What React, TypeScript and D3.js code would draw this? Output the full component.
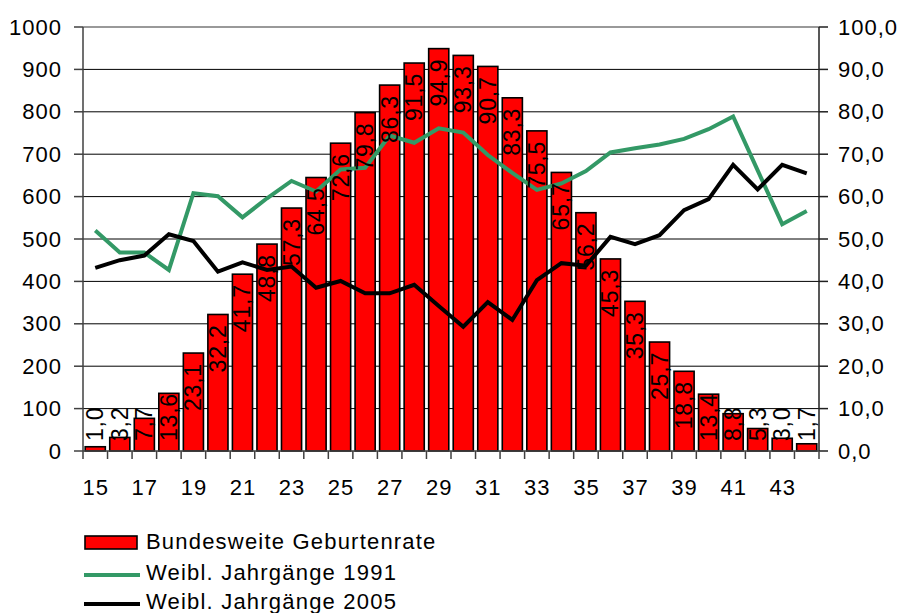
import React from "react";
import * as d3 from "d3";

const ages = [15,16,17,18,19,20,21,22,23,24,25,26,27,28,29,30,31,32,33,34,35,36,37,38,39,40,41,42,43,44];
const birthRate = [1.0,3.2,7.7,13.6,23.1,32.2,41.7,48.8,57.3,64.5,72.6,79.8,86.3,91.5,94.9,93.3,90.7,83.3,75.5,65.7,56.2,45.3,35.3,25.7,18.8,13.4,8.8,5.3,3.0,1.7];
const women1991 = [52.0,46.8,46.8,42.7,60.8,60.1,55.1,59.6,63.7,61.2,66.4,66.8,74.4,72.7,76.1,75.1,69.8,65.6,61.6,63.1,66.0,70.4,71.4,72.3,73.6,75.9,78.9,66.2,53.5,56.6];
const women2005 = [43.2,45.0,46.1,51.1,49.5,42.3,44.5,42.7,43.5,38.5,40.1,37.2,37.2,39.2,34.2,29.3,35.1,30.9,40.3,44.3,43.7,50.5,48.8,50.9,56.8,59.4,67.5,61.7,67.5,65.5];
const leftTicks = [0,100,200,300,400,500,600,700,800,900,1000];
const rightTicks = [0,10,20,30,40,50,60,70,80,90,100];
const xTickLabels = [15,17,19,21,23,25,27,29,31,33,35,37,39,41,43];
const legendItems = ["Bundesweite Geburtenrate", "Weibl. Jahrgänge 1991", "Weibl. Jahrgänge 2005"];

const FONT = "'Liberation Sans', Arial, sans-serif";
const GREEN = "#339966";

export default function App() {
  const W = 903, H = 613;
  const L = 83, R = 819, T = 27, B = 451;
  const x = d3.scaleBand<number>().domain(ages).range([L, R]).padding(0);
  const yL = d3.scaleLinear().domain([0, 1000]).range([B, T]);
  const yR = d3.scaleLinear().domain([0, 100]).range([B, T]);
  const bw = x.bandwidth();
  const barW = bw * 0.82;
  const cx = (a: number) => (x(a) as number) + bw / 2;
  const fmt = (v: number) => v.toFixed(1).replace(".", ",");

  const line = d3.line<number>().x((_, i) => cx(ages[i])).y((v) => yR(v));

  const lblFs = 23, lblLs = 0.8;
  const textLen = (s: string) =>
    s.split("").reduce((acc, c) => acc + (c === "," ? 0.278 : 0.556) * lblFs + lblLs, 0);

  const tickFs = 22, tickLs = 1.0;

  return (
    <svg width={W} height={H} style={{ position: "absolute", left: 0, top: 0, background: "#fff" }} fontFamily={FONT}>
      {leftTicks.slice(1, -1).map((t) => (
        <line key={"g" + t} x1={L} x2={R} y1={yL(t)} y2={yL(t)} stroke="#000" strokeWidth={1} />
      ))}
      <line x1={L} x2={R} y1={yL(1000)} y2={yL(1000)} stroke="#999" strokeWidth={2} />
      {ages.map((a, i) => (
        <rect key={"b" + a} x={cx(a) - barW / 2} y={yR(birthRate[i])} width={barW} height={B - yR(birthRate[i])}
          fill="#ff0000" stroke="#000" strokeWidth={1.6} />
      ))}
      <line x1={L} x2={L} y1={T} y2={B} stroke="#404040" strokeWidth={1.5} />
      <line x1={R} x2={R} y1={T} y2={B} stroke="#202020" strokeWidth={1.5} />
      <line x1={L} x2={R} y1={B} y2={B} stroke="#404040" strokeWidth={1.5} />
      {leftTicks.map((t) => (
        <g key={"lt" + t}>
          <line x1={L - 9} x2={L} y1={yL(t)} y2={yL(t)} stroke="#404040" strokeWidth={1.5} />
          <text x={62} y={yL(t)} textAnchor="end" dominantBaseline="central" fontSize={tickFs} letterSpacing={tickLs} fill="#000">{t}</text>
        </g>
      ))}
      {rightTicks.map((t) => (
        <g key={"rt" + t}>
          <line x1={R} x2={R + 9} y1={yR(t)} y2={yR(t)} stroke="#202020" strokeWidth={1.5} />
          <text x={838} y={yR(t)} textAnchor="start" dominantBaseline="central" fontSize={tickFs} letterSpacing={tickLs} fill="#000">{fmt(t)}</text>
        </g>
      ))}
      {ages.map((a) => (
        <line key={"xt" + a} x1={x(a) as number} x2={x(a) as number} y1={B} y2={B + 8} stroke="#404040" strokeWidth={1.5} />
      ))}
      <line x1={R} x2={R} y1={B} y2={B + 8} stroke="#404040" strokeWidth={1.5} />
      {xTickLabels.map((a) => (
        <text key={"xl" + a} x={cx(a) + 0.5} y={495} textAnchor="middle" fontSize={tickFs} letterSpacing={tickLs} fill="#000">{a}</text>
      ))}
      <path d={line(women1991) || ""} fill="none" stroke={GREEN} strokeWidth={4} strokeLinejoin="miter" />
      <path d={line(women2005) || ""} fill="none" stroke="#000" strokeWidth={4} strokeLinejoin="miter" />
      {ages.map((a, i) => {
        const s = fmt(birthRate[i]);
        const len = textLen(s);
        let start = yR(birthRate[i]) + 10 + len;
        if (start > B - 10) start = B - 10;
        return (
          <text key={"dl" + a} transform={`translate(${cx(a)},${start}) rotate(-90)`} textAnchor="start"
            dominantBaseline="central" fontSize={lblFs} letterSpacing={lblLs} fill="#000">{s}</text>
        );
      })}
      <rect x={85} y={536} width={52} height={13} fill="#ff0000" stroke="#000" strokeWidth={1.6} />
      <line x1={84} x2={140} y1={575} y2={575} stroke={GREEN} strokeWidth={4} />
      <line x1={84} x2={140} y1={604} y2={604} stroke="#000" strokeWidth={4} />
      {legendItems.map((s, i) => (
        <text key={"lg" + i} x={146} y={[549, 580, 609][i]} fontSize={22} letterSpacing={1.2} fill="#000">{s}</text>
      ))}
    </svg>
  );
}
